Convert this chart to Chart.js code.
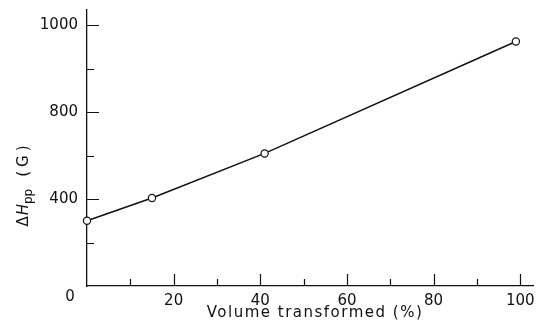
<!DOCTYPE html>
<html>
<head>
<meta charset="utf-8">
<script src="https://cdn.jsdelivr.net/npm/chart.js@4.4.1/dist/chart.umd.min.js"></script>
<style>
  html, body { margin: 0; padding: 0; background: #fff; }
  #wrap { width: 538px; height: 331px; }
</style>
</head>
<body>
<div id="wrap"><canvas id="c" width="538" height="331"></canvas></div>
<script>
// Peak-to-peak linewidth against transformed volume fraction
const volumeTransformed = [0, 15, 41, 99];
const deltaHpp = [300, 405, 610, 1125];

// Axis ticks (labelled ones are drawn longer)
const xTickValues = [0, 10, 20, 30, 40, 50, 60, 70, 80, 90, 100];
const xTickText   = ['', '', '20', '', '40', '', '60', '', '80', '', '100'];
const yTickValues = [0, 200, 400, 600, 800, 1000, 1200];
const yTickText   = ['', '', '400', '', '800', '', '1000'];
const cornerLabel = '0';
const xTitle = 'Volume transformed (%)';

const FONT = '"DejaVu Sans", sans-serif';
const INK = '#111';

function lookup(values, texts, v) {
  const i = values.indexOf(v);
  return i < 0 ? '' : texts[i];
}

// Short tick marks pointing into the plot, plus the corner zero and axis titles
const frameDecor = {
  id: 'frameDecor',
  beforeDatasetsDraw(chart) {
    const { ctx, scales: { x, y } } = chart;
    ctx.save();
    ctx.strokeStyle = INK;
    ctx.lineWidth = 1.2;
    ctx.beginPath();
    xTickValues.forEach((v, i) => {
      if (v === 0) return;
      const px = Math.round(x.getPixelForValue(v)) + 0.5;
      const len = xTickText[i] ? 12 : 7;
      ctx.moveTo(px, y.bottom);
      ctx.lineTo(px, y.bottom - len);
    });
    yTickValues.forEach((v, i) => {
      if (v === 0) return;
      const py = Math.round(y.getPixelForValue(v)) + 0.5;
      const len = yTickText[i] ? 12 : 7;
      ctx.moveTo(x.left, py);
      ctx.lineTo(x.left + len, py);
    });
    ctx.stroke();
    ctx.restore();
  },
  afterDraw(chart) {
    const { ctx, scales: { x, y } } = chart;
    ctx.save();
    ctx.fillStyle = INK;

    // shared origin label
    ctx.font = '15px ' + FONT;
    ctx.textAlign = 'center';
    ctx.textBaseline = 'middle';
    ctx.fillText(cornerLabel, x.left - 17, y.bottom + 11);

    // x title
    ctx.letterSpacing = '1.5px';
    ctx.fillText(xTitle, 315, 313);

    // y title: ΔH_pp (G), rotated
    ctx.translate(28, 184);
    ctx.rotate(-Math.PI / 2);
    ctx.textAlign = 'left';
    ctx.textBaseline = 'alphabetic';
    const parts = [
      { t: '\u0394', f: '15px ' + FONT, dy: 0, ls: '0px', gap: 1 },
      { t: 'H', f: 'italic 15px ' + FONT, dy: 0, ls: '0px', gap: 0 },
      { t: 'pp', f: '12px ' + FONT, dy: 4, ls: '0px', gap: 12 },
      { t: '(G)', f: '15px ' + FONT, dy: 0, ls: '4px', gap: 0 }
    ];
    let total = 0;
    parts.forEach(p => {
      ctx.font = p.f; ctx.letterSpacing = p.ls;
      p.w = ctx.measureText(p.t).width;
      total += p.w + p.gap;
    });
    let cx = -total / 2;
    parts.forEach(p => {
      ctx.font = p.f; ctx.letterSpacing = p.ls;
      ctx.fillText(p.t, cx, p.dy);
      cx += p.w + p.gap;
    });
    ctx.restore();
  }
};

new Chart(document.getElementById('c'), {
  type: 'scatter',
  data: {
    datasets: [{
      data: volumeTransformed.map((v, i) => ({ x: v, y: deltaHpp[i] })),
      showLine: true,
      borderColor: INK,
      borderWidth: 1.5,
      tension: 0,
      pointRadius: 3.6,
      pointHoverRadius: 3.6,
      pointBackgroundColor: '#fff',
      pointBorderColor: INK,
      pointBorderWidth: 1.2,
      clip: false
    }]
  },
  options: {
    responsive: false,
    animation: false,
    devicePixelRatio: 1,
    layout: { padding: { top: 10, right: 1, left: 0, bottom: 0 } },
    plugins: { legend: { display: false }, tooltip: { enabled: false } },
    scales: {
      x: {
        type: 'linear',
        min: 0,
        max: 103,
        afterBuildTicks: s => { s.ticks = xTickValues.map(v => ({ value: v })); },
        afterFit: s => { s.height = 45; s.paddingLeft = 0; s.paddingRight = 0; },
        grid: { display: true, drawOnChartArea: false, drawTicks: false },
        border: { display: true, color: INK, width: 1.3 },
        ticks: {
          autoSkip: false,
          maxRotation: 0,
          padding: 6,
          color: INK,
          font: { family: FONT, size: 15 },
          callback: v => lookup(xTickValues, xTickText, v)
        }
      },
      y: {
        type: 'linear',
        min: 0,
        max: 1270,
        afterBuildTicks: s => { s.ticks = yTickValues.map(v => ({ value: v })); },
        afterFit: s => { s.width = 87; s.paddingTop = 0; s.paddingBottom = 0; },
        grid: { display: true, drawOnChartArea: false, drawTicks: false },
        border: { display: true, color: INK, width: 1.3 },
        ticks: {
          autoSkip: false,
          padding: 9,
          color: INK,
          font: { family: FONT, size: 15 },
          callback: v => lookup(yTickValues, yTickText, v)
        }
      }
    }
  },
  plugins: [frameDecor]
});
</script>
</body>
</html>
